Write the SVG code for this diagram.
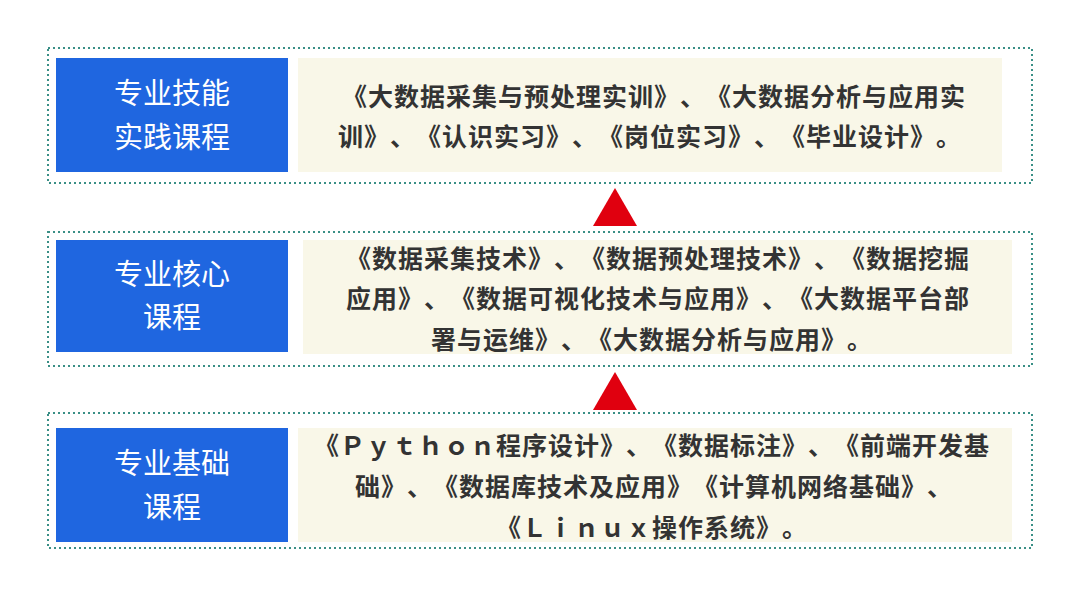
<svg xmlns="http://www.w3.org/2000/svg" width="1080" height="597" viewBox="0 0 1080 597">
<style>
.outer{fill:none;stroke:#3a8f86;stroke-width:2;stroke-dasharray:2 3}
.blue{fill:#1f66e0}
.cream{fill:#f9f7e8}
.lab{font-family:"Noto Sans CJK SC",sans-serif;font-size:29px;fill:#fff;text-anchor:middle}
.txt{font-family:"Noto Sans CJK SC",sans-serif;font-size:25px;font-weight:bold;fill:#333;text-anchor:middle;text-spacing-trim:space-all;font-feature-settings:"fwid" 1;letter-spacing:1px}
.tri{fill:#e0000f}
</style>
<rect width="1080" height="597" fill="#fff"/>
<g id="n1">
<rect class="outer" x="48" y="48" width="984" height="135"/>
<rect class="blue" x="56" y="58" width="232" height="114"/>
<text class="lab" x="172" y="104">专业技能</text>
<text class="lab" x="172" y="148">实践课程</text>
<rect class="cream" x="298" y="58" width="704" height="114"/>
<text class="txt" x="654" y="106">《大数据采集与预处理实训》、《大数据分析与应用实</text>
<text class="txt" x="650" y="146">训》、《认识实习》、《岗位实习》、《毕业设计》。</text>
</g>
<g id="n2">
<rect class="outer" x="48" y="232" width="984" height="134"/>
<rect class="blue" x="56" y="240" width="232" height="112"/>
<text class="lab" x="172" y="285">专业核心</text>
<text class="lab" x="172" y="328">课程</text>
<rect class="cream" x="303" y="240" width="709" height="114"/>
<text class="txt" x="658" y="268">《数据采集技术》、《数据预处理技术》、《数据挖掘</text>
<text class="txt" x="658" y="308">应用》、《数据可视化技术与应用》、《大数据平台部</text>
<text class="txt" x="652" y="349">署与运维》、《大数据分析与应用》。</text>
</g>
<g id="n3">
<rect class="outer" x="48" y="413" width="984" height="135"/>
<rect class="blue" x="56" y="428" width="232" height="114"/>
<text class="lab" x="172" y="474">专业基础</text>
<text class="lab" x="172" y="518">课程</text>
<rect class="cream" x="298" y="428" width="714" height="114"/>
<text class="txt" x="652" y="455">《Python程序设计》、《数据标注》、《前端开发基</text>
<text class="txt" x="654" y="496">础》、《数据库技术及应用》《计算机网络基础》、</text>
<text class="txt" x="652" y="537">《Linux操作系统》。</text>
</g>
<g id="connectors">
<polygon class="tri" points="615,188 637,226 593,226"/>
<polygon class="tri" points="615,372 637,410 593,410"/>
</g>
</svg>
